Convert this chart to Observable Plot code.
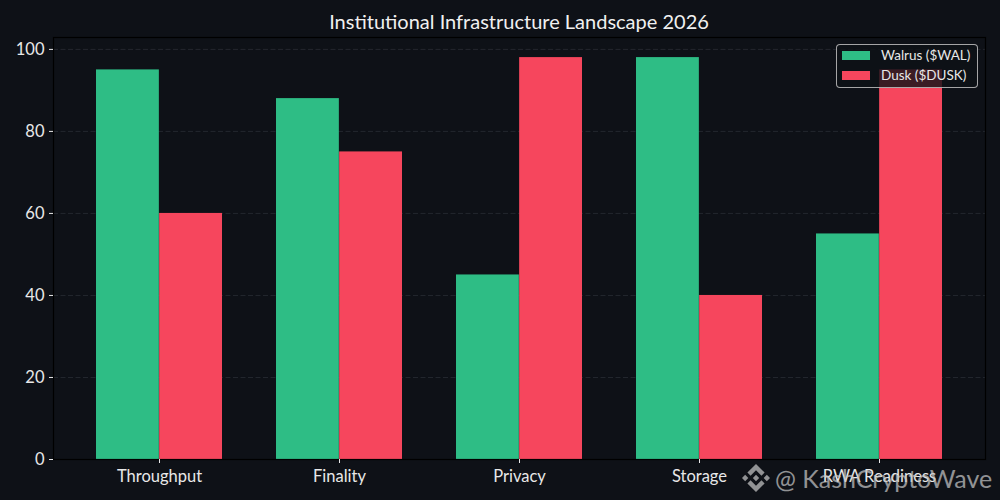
<!DOCTYPE html>
<html>
<head>
<meta charset="utf-8">
<script src="https://cdn.jsdelivr.net/npm/d3@7"></script>
<script src="https://cdn.jsdelivr.net/npm/@observablehq/plot@0.6"></script>
<style>
  html, body { margin: 0; padding: 0; background: #0e1117; }
  #wrap { position: relative; width: 1000px; height: 500px; overflow: hidden; font-family: Lato, "DejaVu Sans", sans-serif; color: #e8e8e8; }
  #title { position: absolute; left: 53px; width: 932px; top: 8px; text-align: center; font-size: 20px; color: #f0f0f0; line-height: 26px; }
  #legend { position: absolute; left: 836px; top: 44px; width: 142px; height: 44px; box-sizing: border-box;
            border: 1px solid rgba(204,204,204,0.8); border-radius: 4px; background: rgba(14,17,23,0.8); font-size: 13.5px; }
  .row { position: absolute; left: 5px; height: 16px; display: flex; align-items: center; white-space: nowrap; }
  .sw { width: 28px; height: 9px; margin-right: 11px; }
  #wm { position: absolute; left: 742px; top: 460px; height: 36px; display: flex; align-items: center; opacity: 0.72; color: #c4c4c4; font-size: 25px; white-space: nowrap; }
  #wm svg { width: 28px; height: 28px; margin-right: 5px; }
</style>
</head>
<body>
<div id="wrap">
  <div id="chart"></div>
  <div id="title"></div>
  <div id="legend"></div>
  <div id="wm"><svg viewBox="0 0 126.61 126.61"><path fill="#c4c4c4" d="M38.73 53.2l24.59-24.58 24.6 24.6 14.3-14.31L63.32 0 24.42 38.9l14.31 14.3zM0 63.31L14.3 49l14.31 14.31-14.31 14.3zM38.73 73.41l24.59 24.59 24.6-24.6 14.31 14.29-38.9 38.91-38.91-38.88-.02-.02 14.33-14.29zM98 63.31L112.3 49l14.31 14.3-14.31 14.32zM77.83 63.3L63.32 48.78 52.59 59.51l-1.24 1.23-2.54 2.54-.02.02.02.03 14.51 14.5 14.51-14.52.01-.01-.01-.01z"/></svg><span>@ KashCryptoWave</span></div>
</div>
<script>
const title = "Institutional Infrastructure Landscape 2026";
const categories = ["Throughput", "Finality", "Privacy", "Storage", "RWA Readiness"];
const seriesNames = ["Walrus ($WAL)", "Dusk ($DUSK)"];
const seriesColors = ["#2ebd85", "#f6465d"];
const walrus = [95, 88, 45, 98, 55];
const dusk = [60, 75, 98, 40, 95];
const yTicks = [0, 20, 40, 60, 80, 100];

const rows = categories.map((c, i) => ({category: c, walrus: walrus[i], dusk: dusk[i]}));

const W = 1000, H = 500, mL = 53, mR = 15, mT = 37, mB = 41;
const pInner = 0.3, pOuter = 0.233;
const step = (W - mL - mR) / (categories.length - pInner + 2 * pOuter);
const half = step * (1 - pInner) / 2;

const chart = Plot.plot({
  width: W, height: H,
  marginLeft: mL, marginRight: mR, marginTop: mT, marginBottom: mB,
  style: {background: "#0e1117", color: "#e8e8e8", fontFamily: "Lato, 'DejaVu Sans', sans-serif", fontSize: "16.5px"},
  x: {domain: categories, paddingInner: pInner, paddingOuter: pOuter, label: null},
  y: {domain: [0, 102.9], label: null},
  marks: [
    Plot.gridY(yTicks, {stroke: "#3a3f48", strokeOpacity: 0.6, strokeDasharray: "5,2.5", strokeWidth: 0.8}),
    Plot.barY(rows, {x: "category", y: "walrus", fill: seriesColors[0], insetRight: half}),
    Plot.barY(rows, {x: "category", y: "dusk", fill: seriesColors[1], insetLeft: half}),
    Plot.frame({stroke: "#000", strokeWidth: 1.2}),
    Plot.axisY(yTicks, {tickSize: 4, tickPadding: 5, color: "#e8e8e8", label: null}),
    Plot.axisX({tickSize: 4, tickPadding: 6.5, color: "#e8e8e8", label: null})
  ]
});
document.getElementById("chart").appendChild(chart);
document.getElementById("title").textContent = title;

const lg = document.getElementById("legend");
seriesNames.forEach((n, i) => {
  const r = document.createElement("div");
  r.className = "row";
  r.style.top = (2 + i * 20) + "px";
  r.innerHTML = `<div class="sw" style="background:${seriesColors[i]}"></div><span>${n}</span>`;
  lg.appendChild(r);
});
</script>
</body>
</html>
